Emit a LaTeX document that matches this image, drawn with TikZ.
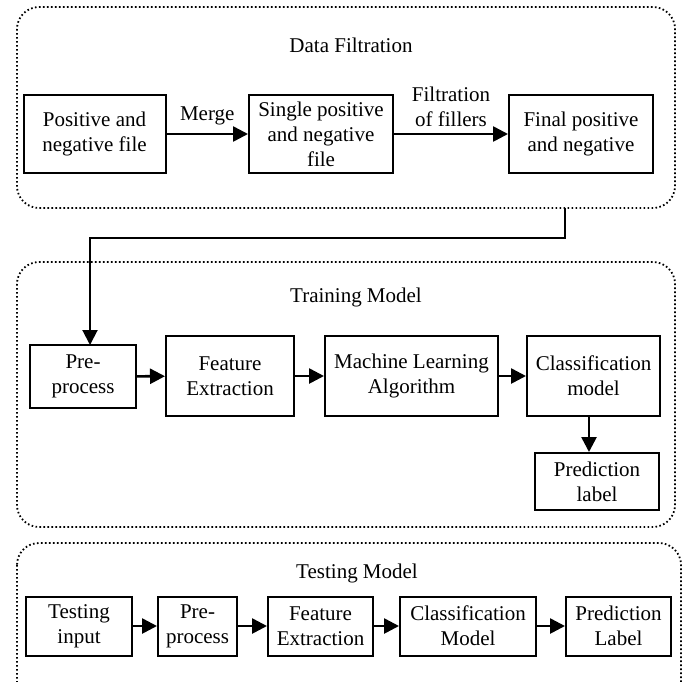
\documentclass[tikz,border=0pt]{standalone}
\usepackage{fontspec}
\setmainfont{Liberation Serif}
\usetikzlibrary{arrows.meta}
\begin{document}
\begin{tikzpicture}[x=1pt,y=-1pt,
  font=\fontsize{21}{25}\selectfont,
  stagebox/.style={draw, line width=2pt, inner sep=0pt, align=center},
  panel/.style={draw, line width=1.8pt, rounded corners=22pt,
    dash pattern=on 1.6pt off 2.4pt},
  flow/.style={line width=2.6pt, -{Triangle[length=15pt,width=15pt]}},
  lbl/.style={inner sep=0pt, align=center}]
\useasboundingbox (0,0) rectangle (684,681);

% three panels
\draw[panel] (17,7) rectangle (675,208);
\draw[panel] (17,262) rectangle (675,527);
\draw[panel] (17,543) rectangle (681,705);

\node[lbl] (t1) at (351,45) {Data Filtration};
\node[lbl] (t2) at (356,297) {Training Model};
\node[lbl] (t3) at (357,573) {Testing Model};

% data filtration stage
\node[stagebox, minimum width=142pt, minimum height=78pt] (a) at (94.5,134) {Positive and\\negative file};
\node[stagebox, minimum width=144pt, minimum height=78pt] (b) at (321,134) {Single positive\\and negative\\file};
\node[stagebox, minimum width=144pt, minimum height=78pt] (c) at (581,134) {Final positive\\and negative};
\draw[flow] (a) -- node[lbl, above=8pt] (m) {Merge} (b);
\draw[flow] (b) -- node[lbl, above=6pt] (f) {Filtration\\of fillers} (c);

% training stage
\node[stagebox, minimum width=106pt, minimum height=63pt] (pp) at (83,376.5) {Pre-\\process};
\node[stagebox, minimum width=128pt, minimum height=80pt] (fe) at (230,376) {Feature\\Extraction};
\node[stagebox, minimum width=173pt, minimum height=80pt] (ml) at (411.5,376) {Machine Learning\\Algorithm};
\node[stagebox, minimum width=133pt, minimum height=80pt] (cl) at (593.5,376) {Classification\\model};
\node[stagebox, minimum width=124pt, minimum height=57pt] (pl) at (597,481.5) {Prediction\\label};
\draw[flow] (pp) -- (fe);
\draw[flow] (fe) -- (ml);
\draw[flow] (ml) -- (cl);
\draw[flow] (cl.south -| 589,0) -- (pl.north -| 589,0);

% link from filtration panel to training
\coordinate (tap) at (565,208);
\draw[line width=2pt, -{Triangle[length=15pt,width=15pt]}] (tap) -- (565,238) -- (90,238) -- (90,345);

% testing stage
\node[stagebox, minimum width=106pt, minimum height=59pt] (ti) at (79,626) {Testing\\input};
\node[stagebox, minimum width=79pt, minimum height=59pt] (tp) at (197.5,626) {Pre-\\process};
\node[stagebox, minimum width=105pt, minimum height=59pt] (tf) at (320.5,626) {Feature\\Extraction};
\node[stagebox, minimum width=136pt, minimum height=59pt] (tc) at (468,626) {Classification\\Model};
\node[stagebox, minimum width=105pt, minimum height=59pt] (tl) at (618.5,626) {Prediction\\Label};
\draw[flow] (ti) -- (tp);
\draw[flow] (tp) -- (tf);
\draw[flow] (tf) -- (tc);
\draw[flow] (tc) -- (tl);
\end{tikzpicture}
\end{document}
